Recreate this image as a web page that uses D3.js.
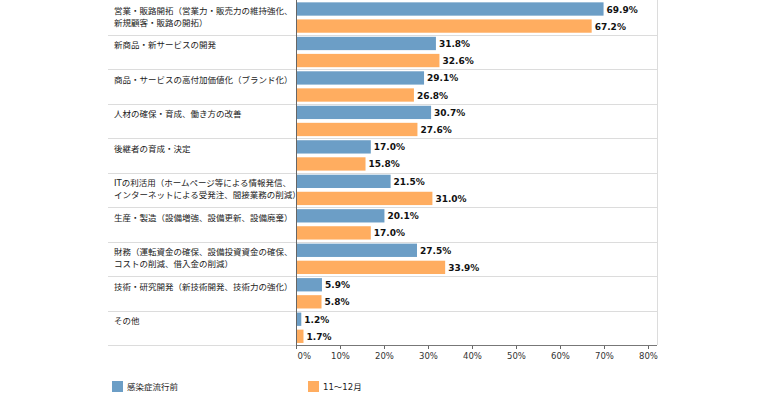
<!DOCTYPE html>
<html>
<head>
<meta charset="utf-8">
<script src="https://cdn.jsdelivr.net/npm/d3@7"></script>
<style>
  body { margin: 0; background: #fff; }
  svg { display: block; }
  .cat { font-family: "DejaVu Sans", "Noto Sans CJK JP", sans-serif; font-size: 8.5px; fill: #222; }
  .val { font-family: "DejaVu Sans", sans-serif; font-size: 9px; font-weight: bold; fill: #111; }
  .axis text { font-family: "DejaVu Sans", sans-serif; font-size: 8.5px; fill: #333; }
  .legend text { font-family: "DejaVu Sans", "Noto Sans CJK JP", sans-serif; font-size: 8.5px; fill: #222; }
</style>
</head>
<body>
<div id="chart"></div>
<script>
var categories = [
    "営業・販路開拓（営業力・販売力の維持強化、\n新規顧客・販路の開拓）",
    "新商品・新サービスの開発",
    "商品・サービスの高付加価値化（ブランド化）",
    "人材の確保・育成、働き方の改善",
    "後継者の育成・決定",
    "ITの利活用（ホームページ等による情報発信、\nインターネットによる受発注、間接業務の削減）",
    "生産・製造（設備増強、設備更新、設備廃棄）",
    "財務（運転資金の確保、設備投資資金の確保、\nコストの削減、借入金の削減）",
    "技術・研究開発（新技術開発、技術力の強化）",
    "その他"
];
var seriesNames = ["感染症流行前", "11～12月"];
var before = [69.9, 31.8, 29.1, 30.7, 17.0, 21.5, 20.1, 27.5, 5.9, 1.2];
var novdec = [67.2, 32.6, 26.8, 27.6, 15.8, 31.0, 17.0, 33.9, 5.8, 1.7];
var ticks = [0, 10, 20, 30, 40, 50, 60, 70, 80];
var colors = ["#6c9ec6", "#ffad60"];

var width = 768;
var height = 394;
var plot = { left: 108, axisX: 296, right: 657, top: 0.3, bottom: 345 };

var svg = d3.select("#chart").append("svg")
    .attr("width", width)
    .attr("height", height);

var xScale = d3.scaleLinear()
    .domain([0, 80])
    .range([plot.axisX, 648]);

var yScale = d3.scaleBand()
    .domain(categories)
    .range([plot.top, plot.bottom]);

var inner = d3.scaleBand()
    .domain(seriesNames)
    .range([0, yScale.bandwidth()])
    .paddingInner(0.22)
    .paddingOuter(0.12);

// row separators
svg.append("g").selectAll("line")
    .data(categories.slice(1))
    .join("line")
    .attr("x1", plot.left)
    .attr("x2", plot.right)
    .attr("y1", function (d) { return Math.round(yScale(d)) + 0.5; })
    .attr("y2", function (d) { return Math.round(yScale(d)) + 0.5; })
    .attr("stroke", "#dcdcdc");

svg.append("line")
    .attr("x1", plot.left).attr("x2", plot.axisX)
    .attr("y1", plot.bottom + 0.5).attr("y2", plot.bottom + 0.5)
    .attr("stroke", "#dcdcdc");

// right border
svg.append("line")
    .attr("x1", plot.right + 0.5).attr("x2", plot.right + 0.5)
    .attr("y1", 0).attr("y2", plot.bottom)
    .attr("stroke", "#dcdcdc");

// category labels
var catG = svg.append("g").selectAll("text")
    .data(categories)
    .join("text")
    .attr("class", "cat")
    .attr("x", 114)
    .attr("y", function (d) { return yScale(d) + 10.5; });

catG.selectAll("tspan")
    .data(function (d) { return d.split("\n"); })
    .join("tspan")
    .attr("x", 114)
    .attr("dy", function (d, i) { return i === 0 ? 0 : 11.7; })
    .attr("dominant-baseline", "central")
    .text(function (d) { return d; });

// bars
var series = [before, novdec];
seriesNames.forEach(function (name, s) {
    var g = svg.append("g");
    g.selectAll("rect")
        .data(series[s])
        .join("rect")
        .attr("x", xScale(0))
        .attr("y", function (d, i) { return yScale(categories[i]) + inner(name); })
        .attr("width", function (d) { return xScale(d) - xScale(0); })
        .attr("height", inner.bandwidth())
        .attr("fill", colors[s]);

    g.selectAll("text")
        .data(series[s])
        .join("text")
        .attr("class", "val")
        .attr("x", function (d) { return xScale(d) + 3; })
        .attr("y", function (d, i) { return yScale(categories[i]) + inner(name) + inner.bandwidth() / 2 + 0.5; })
        .attr("dominant-baseline", "central")
        .text(function (d) { return d.toFixed(1) + "%"; });
});

// axes
var xAxis = d3.axisBottom(xScale)
    .tickValues(ticks)
    .tickFormat(function (d) { return d + "%"; })
    .tickSize(4)
    .tickPadding(4);

var axG = svg.append("g")
    .attr("class", "axis")
    .attr("transform", "translate(0," + plot.bottom + ")")
    .call(xAxis);
axG.select(".domain").remove();
axG.selectAll(".tick line").attr("stroke", "#666");
axG.selectAll(".tick text")
    .filter(function (d) { return d === 0; })
    .attr("text-anchor", "start")
    .attr("dx", 1);

svg.append("line")
    .attr("x1", plot.axisX).attr("x2", plot.right)
    .attr("y1", plot.bottom + 0.5).attr("y2", plot.bottom + 0.5)
    .attr("stroke", "#777");

svg.append("line")
    .attr("x1", plot.axisX + 0.5).attr("x2", plot.axisX + 0.5)
    .attr("y1", 0).attr("y2", plot.bottom + 4)
    .attr("stroke", "#666");

// legend
var legendX = [112, 308];
var legend = svg.append("g").attr("class", "legend");
seriesNames.forEach(function (name, s) {
    legend.append("rect")
        .attr("x", legendX[s])
        .attr("y", 381)
        .attr("width", 11)
        .attr("height", 11)
        .attr("fill", colors[s]);
    legend.append("text")
        .attr("x", legendX[s] + 15)
        .attr("y", 387)
        .attr("dominant-baseline", "central")
        .text(name);
});
</script>
</body>
</html>
